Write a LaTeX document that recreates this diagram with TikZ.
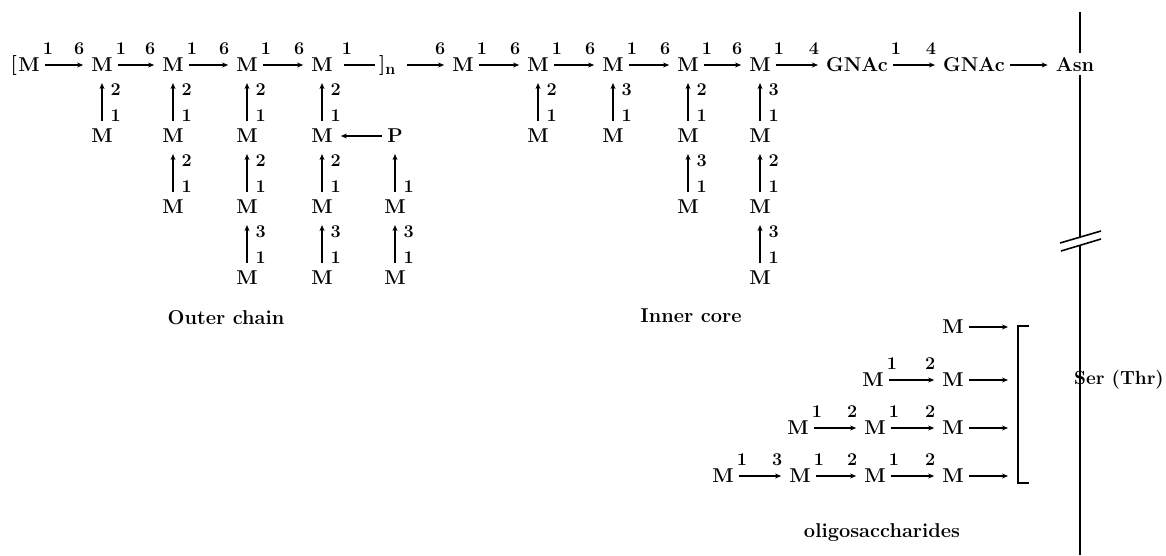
\documentclass[tikz,border=0pt]{standalone}
\usetikzlibrary{arrows.meta, positioning}

\begin{document}
\begin{tikzpicture}[x=1pt, y=-1pt, node distance=71pt]
        \tikzstyle{sugar} = [font=\fontsize{20}{24}\selectfont\bfseries, inner sep=1pt]
        \tikzstyle{num} = [font=\fontsize{18}{18}\selectfont\bfseries, inner sep=0pt]
        \tikzstyle{caption} = [font=\fontsize{20}{24}\selectfont\bfseries, inner sep=0pt]
        \tikzstyle{bond} = [-{Stealth[length=6pt, width=5pt]}, line width=1.3pt, shorten <=4pt, shorten >=7pt]
        \tikzstyle{rise} = [bond, shorten <=7pt, shorten >=10pt]
        \tikzstyle{axis} = [line width=1.6pt]
        % linkage numbers: left/right end of a bond, top/bottom of a rise
        \tikzstyle{hl} = [num, pos=0, above=10pt, xshift=7pt]
        \tikzstyle{hr} = [num, pos=1, above=10pt, xshift=-11pt]
        \tikzstyle{vt} = [num, pos=1, right=8pt, yshift=-17pt]
        \tikzstyle{vb} = [num, pos=0, right=8pt, yshift=12pt]

        \useasboundingbox (0,0) rectangle (1166,555);

        % Backbone
        \node[sugar] (o0) at (29,65) {M};
        \node[sugar, anchor=east, inner sep=0pt] (lb) at (o0.west) {[};
        \node[sugar] (o1) at (102,65) {M};
        \node[sugar] (o2) at (173,65) {M};
        \node[sugar] (o3) at (247,65) {M};
        \node[sugar] (o4) at (322,65) {M};
        \node[sugar, anchor=west] (rb) at (378,65) {]\raisebox{-4pt}{\fontsize{16}{16}\selectfont n}};
        \node[sugar] (c0) at (463,65) {M};
        \node[sugar] (c1) at (538,65) {M};
        \node[sugar] (c2) at (613,65) {M};
        \node[sugar] (c3) at (688,65) {M};
        \node[sugar] (c4) at (760,65) {M};
        \node[sugar] (gn1) at (857,65) {GNAc};
        \node[sugar] (gn2) at (974,65) {GNAc};
        \node[sugar] (asn) at (1075,65) {Asn};

        \draw[bond] (o0) -- node[hl]{1} node[hr]{6} (o1);
        \draw[bond] (o1) -- node[hl]{1} node[hr]{6} (o2);
        \draw[bond] (o2) -- node[hl]{1} node[hr]{6} (o3);
        \draw[bond] (o3) -- node[hl]{1} node[hr]{6} (o4);
        \draw[line width=1.3pt, shorten <=10pt, shorten >=3pt] (o4) -- node[hl, xshift=6pt]{1} (rb);
        \draw[bond, shorten <=10pt] (rb) -- node[hr]{6} (c0);
        \draw[bond] (c0) -- node[hl]{1} node[hr]{6} (c1);
        \draw[bond] (c1) -- node[hl]{1} node[hr]{6} (c2);
        \draw[bond] (c2) -- node[hl]{1} node[hr]{6} (c3);
        \draw[bond] (c3) -- node[hl]{1} node[hr]{6} (c4);
        \draw[bond] (c4) -- node[hl]{1} node[hr]{4} (gn1);
        \draw[bond] (gn1) -- node[hl]{1} node[hr]{4} (gn2);
        \draw[bond] (gn2) -- (asn);

        % Outer chain side branches
        \node[sugar, below of=o1] (o1a) {M};
        \draw[rise] (o1a) -- node[vb]{1} node[vt]{2} (o1);
        \node[sugar, below of=o2] (o2a) {M};
        \node[sugar, below of=o2a] (o2b) {M};
        \draw[rise] (o2a) -- node[vb]{1} node[vt]{2} (o2);
        \draw[rise] (o2b) -- node[vb]{1} node[vt]{2} (o2a);
        \node[sugar, below of=o3] (o3a) {M};
        \node[sugar, below of=o3a] (o3b) {M};
        \node[sugar, below of=o3b] (o3c) {M};
        \draw[rise] (o3a) -- node[vb]{1} node[vt]{2} (o3);
        \draw[rise] (o3b) -- node[vb]{1} node[vt]{2} (o3a);
        \draw[rise] (o3c) -- node[vb]{1} node[vt]{3} (o3b);
        \node[sugar, below of=o4] (o4a) {M};
        \node[sugar, below of=o4a] (o4b) {M};
        \node[sugar, below of=o4b] (o4c) {M};
        \draw[rise] (o4a) -- node[vb]{1} node[vt]{2} (o4);
        \draw[rise] (o4b) -- node[vb]{1} node[vt]{2} (o4a);
        \draw[rise] (o4c) -- node[vb]{1} node[vt]{3} (o4b);

        % Phosphate bridge
        \node[sugar, right of=o4a, node distance=73pt] (p) {P};
        \node[sugar, below of=p] (pa) {M};
        \node[sugar, below of=pa] (pb) {M};
        \draw[bond] (p) -- (o4a);
        \draw[rise] (pa) -- node[vb]{1} (p);
        \draw[rise] (pb) -- node[vb]{1} node[vt]{3} (pa);

        % Inner core side branches
        \node[sugar, below of=c1] (c1a) {M};
        \draw[rise] (c1a) -- node[vb]{1} node[vt]{2} (c1);
        \node[sugar, below of=c2] (c2a) {M};
        \draw[rise] (c2a) -- node[vb]{1} node[vt]{3} (c2);
        \node[sugar, below of=c3] (c3a) {M};
        \node[sugar, below of=c3a] (c3b) {M};
        \draw[rise] (c3a) -- node[vb]{1} node[vt]{2} (c3);
        \draw[rise] (c3b) -- node[vb]{1} node[vt]{3} (c3a);
        \node[sugar, below of=c4] (c4a) {M};
        \node[sugar, below of=c4a] (c4b) {M};
        \node[sugar, below of=c4b] (c4c) {M};
        \draw[rise] (c4a) -- node[vb]{1} node[vt]{3} (c4);
        \draw[rise] (c4b) -- node[vb]{1} node[vt]{2} (c4a);
        \draw[rise] (c4c) -- node[vb]{1} node[vt]{3} (c4b);

        \node[caption] (outer) at (226,318) {Outer chain};
        \node[caption] (inner) at (691,316) {Inner core};

        % O-linked oligosaccharides
        \node[sugar] (s1a) at (953,327) {M};
        \node[sugar] (s2a) at (873,380) {M};
        \node[sugar] (s2b) at (953,380) {M};
        \node[sugar] (s3a) at (798,428) {M};
        \node[sugar] (s3b) at (875,428) {M};
        \node[sugar] (s3c) at (953,428) {M};
        \node[sugar] (s4a) at (723,476) {M};
        \node[sugar] (s4b) at (800,476) {M};
        \node[sugar] (s4c) at (875,476) {M};
        \node[sugar] (s4d) at (953,476) {M};

        \draw[bond] (s2a) -- node[hl]{1} node[hr]{2} (s2b);
        \draw[bond] (s3a) -- node[hl]{1} node[hr]{2} (s3b);
        \draw[bond] (s3b) -- node[hl]{1} node[hr]{2} (s3c);
        \draw[bond] (s4a) -- node[hl]{1} node[hr]{3} (s4b);
        \draw[bond] (s4b) -- node[hl]{1} node[hr]{2} (s4c);
        \draw[bond] (s4c) -- node[hl]{1} node[hr]{2} (s4d);

        \coordinate (bt) at (1018,326);
        \coordinate (bb) at (1018,483);
        \draw[line width=1.3pt] ([xshift=11pt]bt) -- (bt) -- (bb) -- ([xshift=11pt]bb);
        \draw[bond, shorten >=10pt] (s1a) -- (s1a -| bt);
        \draw[bond, shorten >=10pt] (s2b) -- (s2b -| bt);
        \draw[bond, shorten >=10pt] (s3c) -- (s3c -| bt);
        \draw[bond, shorten >=10pt] (s4d) -- (s4d -| bt);

        \node[caption] (oligo) at (882,533) {oligosaccharides};

        % Polypeptide axis with break
        \coordinate (axtop) at (1080,12);
        \coordinate (cutA) at (1080,237);
        \coordinate (cutB) at (1080,245);
        \coordinate (axbot) at (1080,555);
        \draw[axis, shorten >=4pt] (axtop) -- (asn.north -| axtop);
        \draw[axis, shorten <=2pt] (asn.south -| axtop) -- (cutA);
        \draw[axis] (cutB) -- (axbot);
        \draw[axis] ([shift={(-20,6)}]cutA) -- ([shift={(21,-6)}]cutA);
        \draw[axis] ([shift={(-19,6)}]cutB) -- ([shift={(21,-6)}]cutB);
        \node[caption, font=\fontsize{19}{23}\selectfont\bfseries, anchor=west] (ser) at (1074,380) {Ser (Thr)};
    \end{tikzpicture}
\end{document}
